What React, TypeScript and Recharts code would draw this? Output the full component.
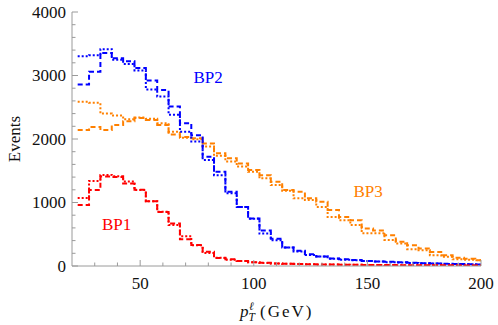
import React from 'react';
import { LineChart, Line, XAxis, YAxis, ReferenceDot } from 'recharts';

// ---- data (bin centres in GeV, 5 GeV wide bins) ----
const binCenters = [
  25, 30, 35, 40, 45, 50, 55, 60, 65, 70,
  75, 80, 85, 90, 95, 100, 105, 110, 115, 120,
  125, 130, 135, 140, 145, 150, 155, 160, 165, 170,
  175, 180, 185, 190, 195, 200,
];

const bp1Dashed = [
  960, 1195, 1410, 1400, 1300, 1200, 1020, 850, 670, 420,
  330, 225, 125, 105, 80, 60, 50, 40, 35, 30,
  27, 25, 22, 20, 18, 17, 15, 14, 13, 12,
  11, 10, 10, 9, 8, 8,
];
const bp1Dotted = [
  1070, 1340, 1435, 1415, 1330, 1195, 1020, 855, 645, 470,
  325, 205, 130, 100, 78, 60, 48, 40, 34, 30,
  26, 24, 22, 20, 18, 16, 15, 14, 13, 12,
  11, 10, 9, 9, 8, 8,
];
const bp2Dashed = [
  2860, 3060, 3355, 3270, 3225, 3120, 2920, 2770, 2510, 2250,
  2060, 1720, 1485, 1170, 930, 750, 560, 430, 290, 240,
  185, 150, 120, 105, 95, 80, 72, 65, 58, 50,
  45, 40, 35, 30, 28, 25,
];
const bp2Dotted = [
  3305, 3320, 3415, 3250, 3180, 3080, 2780, 2670, 2380, 2115,
  1960, 1670, 1430, 1145, 930, 745, 510, 405, 290, 230,
  175, 150, 115, 100, 90, 80, 70, 60, 55, 48,
  42, 38, 33, 30, 26, 24,
];
const bp3Dashed = [
  2140, 2190, 2140, 2220, 2280, 2330, 2300, 2220, 2070, 2030,
  2010, 1930, 1775, 1695, 1615, 1510, 1430, 1325, 1195, 1170,
  1065, 1010, 880, 770, 720, 590, 560, 485, 380, 325,
  275, 220, 170, 130, 115, 90,
];
const bp3Dotted = [
  2585, 2570, 2400, 2370, 2310, 2340, 2320, 2250, 2115, 2020,
  1995, 1880, 1735, 1645, 1565, 1485, 1380, 1275, 1185, 1065,
  1040, 930, 770, 720, 645, 515, 515, 410, 355, 265,
  250, 170, 145, 105, 100, 90,
];

const xTicks = [30, 40, 50, 60, 70, 80, 90, 100, 110, 120, 130, 140, 150, 160, 170, 180, 190, 200];
const xTickLabels = [50, 100, 150, 200];
const yTicks = [
  0, 200, 400, 600, 800, 1000, 1200, 1400, 1600, 1800, 2000,
  2200, 2400, 2600, 2800, 3000, 3200, 3400, 3600, 3800, 4000,
];
const yTickLabels = [0, 1000, 2000, 3000, 4000];

const seriesNames = ['BP1', 'BP2', 'BP3'];
const labelAnchorX = [39.6, 79.9, 150.3];
const labelAnchorY = [666, 2979, 1171];

// ---- constants ----
const X_MIN = 20;
const X_MAX = 200;
const Y_MAX = 4000;
const BIN_WIDTH = 5;

const RED = '#ff0000';
const BLUE = '#0000ff';
const ORANGE = '#ff8000';
const COLORS = [RED, BLUE, ORANGE];
const FRAME = '#9a9a9a';
const FONT = '"Liberation Serif", "Times New Roman", serif';
const FS = 17;

// step-histogram table: each row at a bin's left edge, final row closes at X_MAX
const rows: any[] = binCenters.map((c, i) => ({
  x: c - BIN_WIDTH / 2,
  bp1a: bp1Dashed[i],
  bp1b: bp1Dotted[i],
  bp2a: bp2Dashed[i],
  bp2b: bp2Dotted[i],
  bp3a: bp3Dashed[i],
  bp3b: bp3Dotted[i],
}));
{
  const last = rows[rows.length - 1];
  rows.push({ ...last, x: X_MAX });
}

const BottomTick = (props: any) => {
  const { x, y, payload } = props;
  const v = payload.value;
  const major = xTickLabels.includes(v);
  return (
    <g>
      <line x1={x} x2={x} y1={y} y2={y - (major ? 6 : 3.5)} stroke={FRAME} strokeWidth={1} />
      {major && (
        <text x={x} y={y + 23} textAnchor="middle" fontFamily={FONT} fontSize={FS} fill="#111">
          {v}
        </text>
      )}
    </g>
  );
};

const TopTick = (props: any) => {
  const { x, y, payload } = props;
  const major = xTickLabels.includes(payload.value);
  return <line x1={x} x2={x} y1={y} y2={y + (major ? 6 : 3.5)} stroke={FRAME} strokeWidth={1} />;
};

const LeftTick = (props: any) => {
  const { x, y, payload } = props;
  const v = payload.value;
  const major = yTickLabels.includes(v);
  return (
    <g>
      <line x1={x} x2={x + (major ? 6 : 3.5)} y1={y} y2={y} stroke={FRAME} strokeWidth={1} />
      {major && (
        <text x={x - 6} y={y} dy={5.8} textAnchor="end" fontFamily={FONT} fontSize={FS} fill="#111">
          {v}
        </text>
      )}
    </g>
  );
};

const RightTick = (props: any) => {
  const { x, y, payload } = props;
  const major = yTickLabels.includes(payload.value);
  return <line x1={x} x2={x - (major ? 6 : 3.5)} y1={y} y2={y} stroke={FRAME} strokeWidth={1} />;
};

const XLabel = (props: any) => {
  const vb = props.viewBox || {};
  const cx = vb.x + vb.width / 2;
  const base = vb.y + 51;
  const x0 = cx - 36.5;
  return (
    <g fontFamily={FONT} fill="#111">
      <text x={x0} y={base} fontSize={FS} fontStyle="italic">p</text>
      <text x={x0 + 9} y={base - 7} fontSize={11.5} fontStyle="italic">ℓ</text>
      <text x={x0 + 8.5} y={base + 3.5} fontSize={11.5} fontStyle="italic">T</text>
      <text x={x0 + 20} y={base} fontSize={FS} letterSpacing={2}>(GeV)</text>
    </g>
  );
};

const YLabel = (props: any) => {
  const vb = props.viewBox || {};
  const cy = vb.y + vb.height / 2;
  const bx = vb.x + 19.5;
  return (
    <text
      x={bx}
      y={cy}
      transform={`rotate(-90, ${bx}, ${cy})`}
      textAnchor="middle"
      fontFamily={FONT}
      fontSize={FS}
      fill="#111"
    >
      Events
    </text>
  );
};

const makeSeriesLabel = (text: string, color: string) => (props: any) => {
  const vb = props.viewBox || {};
  const cx = vb.x + (vb.width || 0) / 2;
  const cy = vb.y + (vb.height || 0) / 2;
  return (
    <text x={cx} y={cy} dy={5.8} textAnchor="middle" fontFamily={FONT} fontSize={FS} fill={color}>
      {text}
    </text>
  );
};

const lineCommon = {
  type: 'stepAfter' as const,
  dot: false,
  activeDot: false,
  isAnimationActive: false,
  strokeWidth: 2,
  strokeLinecap: 'butt' as const,
};

export default function App() {
  return (
    <div style={{ position: 'absolute', left: 0, top: 0, background: '#fff' }}>
      <LineChart width={498} height={325} data={rows} margin={{ top: 12, right: 17, bottom: 0, left: 0 }}>
        <XAxis
          dataKey="x"
          type="number"
          domain={[X_MIN, X_MAX]}
          ticks={xTicks}
          allowDataOverflow
          height={59}
          tickSize={0}
          tickMargin={0}
          tick={<BottomTick />}
          axisLine={{ stroke: FRAME }}
          tickLine={false}
          interval={0}
          label={<XLabel />}
        />
        <XAxis
          xAxisId="top"
          orientation="top"
          dataKey="x"
          type="number"
          domain={[X_MIN, X_MAX]}
          ticks={xTicks}
          allowDataOverflow
          height={0}
          tickSize={0}
          tickMargin={0}
          tick={<TopTick />}
          axisLine={{ stroke: FRAME }}
          tickLine={false}
          interval={0}
        />
        <YAxis
          type="number"
          domain={[0, Y_MAX]}
          ticks={yTicks}
          allowDataOverflow
          width={72}
          tickSize={0}
          tickMargin={0}
          tick={<LeftTick />}
          axisLine={{ stroke: FRAME }}
          tickLine={false}
          interval={0}
          label={<YLabel />}
        />
        <YAxis
          yAxisId="right"
          orientation="right"
          type="number"
          domain={[0, Y_MAX]}
          ticks={yTicks}
          allowDataOverflow
          width={0}
          tickSize={0}
          tickMargin={0}
          tick={<RightTick />}
          axisLine={{ stroke: FRAME }}
          tickLine={false}
          interval={0}
        />

        <Line {...lineCommon} dataKey="bp3b" stroke={ORANGE} strokeDasharray="2 2" />
        <Line {...lineCommon} dataKey="bp3a" stroke={ORANGE} strokeDasharray="5 3" />
        <Line {...lineCommon} dataKey="bp2b" stroke={BLUE} strokeDasharray="2 2" />
        <Line {...lineCommon} dataKey="bp2a" stroke={BLUE} strokeDasharray="5 3" />
        <Line {...lineCommon} dataKey="bp1b" stroke={RED} strokeDasharray="2 2" />
        <Line {...lineCommon} dataKey="bp1a" stroke={RED} strokeDasharray="5 3" />

        {seriesNames.map((n, i) => (
          <ReferenceDot
            key={n}
            x={labelAnchorX[i]}
            y={labelAnchorY[i]}
            r={1}
            fill="none"
            stroke="none"
            label={makeSeriesLabel(n, COLORS[i])}
          />
        ))}
      </LineChart>
    </div>
  );
}
